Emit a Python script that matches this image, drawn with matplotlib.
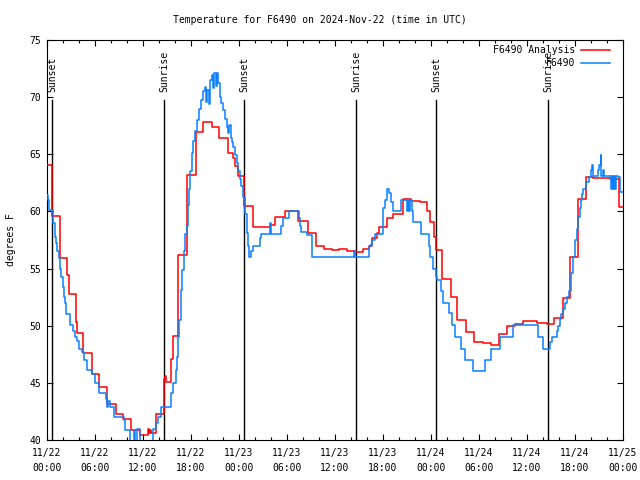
import matplotlib
matplotlib.use("Agg")
import matplotlib.pyplot as plt
from matplotlib.ticker import MultipleLocator

# ---- data (hours since 2024-11-22 00:00 UTC) ----
red_hours = [0, 0.58, 1.58, 2.54, 2.75, 3.58, 3.75, 4.54, 5.58, 6.54, 7.54, 8.58, 9.54,
             10.54, 11.6, 12.6, 12.75, 12.85, 13.0, 13.6, 14.6, 14.75, 14.85, 15.5, 15.7,
             16.4, 17.5, 18.6, 19.5, 20.6, 21.5, 22.6, 23.3, 23.5, 23.9, 24.6, 25.7, 27.9,
             28.5, 29.7, 31.4, 32.6, 33.6, 34.6, 35.6, 36.5, 37.5, 38.6, 39.5, 40.3, 40.6,
             41.2, 41.5, 42.5, 43.3, 44.5, 45.5, 46.6, 47.5, 47.9, 48.4, 48.6, 49.4, 50.5,
             51.3, 52.4, 53.4, 54.5, 55.5, 56.5, 57.5, 58.5, 59.5, 60.4, 61.3, 62.5, 63.4,
             64.5, 65.4, 66.4, 67.4, 68.3, 69.5, 70.4, 71.5, 72.0]
red_temps = [64.1, 59.6, 55.9, 54.4, 52.75, 50.3, 49.4, 47.6, 45.75, 44.6, 43.15, 42.3, 41.8,
             40.9, 40.4, 41.0, 40.6, 40.9, 40.6, 42.3, 45.3, 45.6, 45.1, 47.1, 49.1,
             56.2, 63.2, 66.95, 67.8, 67.36, 66.4, 65.1, 64.7, 64.0, 63.1, 60.5, 58.6, 58.8,
             59.5, 60.0, 59.2, 58.1, 57.0, 56.7, 56.6, 56.7, 56.5, 56.45, 56.7, 57.0, 57.65,
             58.1, 58.6, 59.4, 59.8, 61.1, 60.9, 60.85, 60.0, 59.1, 57.8, 56.6, 54.06, 52.5,
             50.5, 49.45, 48.6, 48.5, 48.3, 49.3, 50.0, 50.15, 50.4, 50.45, 50.2, 50.15, 50.7,
             52.4, 56.0, 61.06, 63.0, 62.95, 62.9, 62.8, 60.4, 60.4]

blue_hours = [0.0, 0.13, 0.29, 0.79, 0.96, 1.08, 1.29, 1.46, 1.63, 1.79, 1.96, 2.13, 2.25,
              2.42, 2.88, 3.29, 3.46, 3.79, 3.96, 4.42, 4.63, 4.96, 5.04, 5.58, 6.0, 6.5,
              7.42, 7.54, 7.67, 7.83, 8.38, 9.63, 9.75, 10.4, 10.9, 11.05, 11.3, 11.6, 13.3,
              13.6, 13.9, 14.3, 15.5, 15.8, 16.1, 16.3, 16.4, 16.5, 16.7, 16.9, 17.1, 17.25,
              17.5, 17.6, 17.75, 17.9, 18.1, 18.3, 18.5, 18.7, 19.0, 19.3, 19.5, 19.75, 19.83,
              19.96, 20.2, 20.4, 20.6, 20.8, 20.9, 21.1, 21.2, 21.4, 21.6, 21.8, 22.0, 22.25,
              22.5, 22.6, 22.8, 22.96, 23.1, 23.3, 23.5, 23.7, 23.9, 24.1, 24.3, 24.5, 24.7,
              24.8, 25.0, 25.15, 25.3, 25.5, 25.7, 26.6, 26.8, 27.85, 27.95, 29.3, 29.5, 30.3,
              31.5, 31.6, 31.8, 32.5, 33.1, 38.4, 38.5, 40.2, 40.4, 40.6, 41.0, 42.0, 42.25,
              42.5, 42.8, 42.96, 43.2, 44.2, 45.0, 45.1, 45.3, 45.4, 45.6, 45.8, 46.8, 47.7,
              47.9, 48.3, 48.6, 48.7, 49.2, 49.5, 50.3, 50.6, 51.0, 51.8, 52.2, 53.2, 54.7,
              55.5, 56.6, 58.2, 61.4, 62.0, 62.9, 63.1, 63.7, 63.9, 64.1, 64.3, 64.5, 64.75,
              65.0, 65.2, 65.5, 65.7, 66.0, 66.2, 66.4, 66.6, 66.75, 66.9, 67.0, 67.4, 67.7,
              68.0, 68.1, 68.2, 68.9, 69.0, 69.2, 69.3, 69.5, 69.6, 70.4, 70.5, 70.6, 70.75,
              70.85, 71.0, 71.1, 71.4, 71.6, 72.0]
blue_temps = [61.4, 61.0, 60.1, 59.0, 57.8, 57.2, 56.5, 55.9, 55.0, 54.3, 53.4, 52.5, 52.0,
              51.0, 50.1, 49.5, 49.0, 48.7, 48.0, 47.7, 47.0, 46.6, 46.1, 45.8, 45.0, 44.1,
              43.6, 42.9, 43.4, 42.9, 42.0, 41.75, 40.9, 39.5, 40.8, 39.5, 41.0, 39.5, 41.0,
              41.5, 42.0, 42.9, 44.1, 45.0, 46.1, 47.3, 49.0, 50.5, 53.1, 54.9, 56.5, 58.0,
              58.7, 60.6, 62.0, 63.5, 65.1, 66.2, 67.0, 68.0, 69.0, 69.75, 70.5, 70.9, 69.6,
              70.6, 69.4, 71.5, 71.9, 70.8, 72.1, 71.0, 72.1, 71.2, 70.0, 69.5, 68.9, 68.1,
              67.4, 66.9, 67.6, 66.4, 66.1, 65.6, 64.9, 64.2, 63.5, 62.8, 62.2, 61.3, 60.4,
              59.8, 58.1, 57.0, 56.0, 56.5, 57.0, 57.65, 58.0, 59.0, 58.0, 58.7, 59.4, 60.0,
              59.4, 58.7, 58.2, 57.9, 56.0, 56.5, 56.0, 56.9, 57.1, 57.5, 58.0, 60.3, 61.0,
              62.0, 61.6, 60.8, 60.0, 61.0, 60.0, 61.0, 60.0, 61.0, 60.0, 59.1, 58.0, 57.0,
              56.0, 55.0, 54.3, 54.0, 53.0, 52.0, 51.1, 50.1, 49.0, 48.0, 47.0, 46.0, 47.0,
              48.0, 49.0, 50.1, 49.0, 48.0, 48.6, 49.0, 49.5, 50.0, 50.6, 51.0, 51.5, 52.0,
              52.5, 53.0, 54.6, 56.0, 57.5, 58.5, 59.5, 60.3, 61.0, 61.5, 62.0, 62.6, 63.0,
              63.6, 64.1, 63.1, 63.6, 64.1, 64.9, 63.1, 63.6, 63.1, 63.1, 62.0, 63.1, 62.0,
              63.1, 62.0, 63.1, 63.0, 61.7, 61.7]

sun_hours = [0.67, 14.67, 24.67, 38.67, 48.67, 62.67]
sun_labels = ["Sunset", "Sunrise", "Sunset", "Sunrise", "Sunset", "Sunrise"]

xtick_hours = [0, 6, 12, 18, 24, 30, 36, 42, 48, 54, 60, 66, 72]
xtick_labels = ["11/22\n00:00", "11/22\n06:00", "11/22\n12:00", "11/22\n18:00",
                "11/23\n00:00", "11/23\n06:00", "11/23\n12:00", "11/23\n18:00",
                "11/24\n00:00", "11/24\n06:00", "11/24\n12:00", "11/24\n18:00",
                "11/25\n00:00"]
yticks = [40, 45, 50, 55, 60, 65, 70, 75]

title = "Temperature for F6490 on 2024-Nov-22 (time in UTC)"
red_label = "F6490 Analysis"
blue_label = "F6490"

# ---- plot ----
FONT = "DejaVu Sans Mono"
FS = 7
plt.rcParams['font.family'] = [FONT]

fig = plt.figure(figsize=(6.4, 4.8), dpi=100)
ax = fig.add_axes([47/640, 40/480, 576/640, 400/480])

red_color = "#ff0000"
blue_color = "#0a80ff"

ax.plot(red_hours, red_temps, drawstyle="steps-post", color=red_color, lw=1.1, zorder=3)
ax.plot(blue_hours, blue_temps, drawstyle="steps-post", color=blue_color, lw=1.1, zorder=4)

for h, lab in zip(sun_hours, sun_labels):
    ax.plot([h, h], [0, 0.85], color="black", lw=1.0,
            transform=ax.get_xaxis_transform(), zorder=2)
    ax.text(h, 0.87, lab, rotation=90, ha="center", va="bottom",
            transform=ax.get_xaxis_transform(), fontsize=FS, family=FONT)

ax.set_xlim(0, 72)
ax.set_ylim(40, 75)
ax.set_xticks(xtick_hours)
ax.set_xticklabels(xtick_labels, fontsize=FS, linespacing=1.55)
ax.xaxis.set_minor_locator(MultipleLocator(2))
ax.set_yticks(yticks)
ax.set_yticklabels([str(v) for v in yticks], fontsize=FS)
ax.tick_params(which="both", direction="in", top=True, right=True, width=0.8)
ax.tick_params(which="major", length=4.5, pad=4)
ax.tick_params(axis="x", which="major", pad=6)
ax.tick_params(which="minor", length=2.5)
for s in ax.spines.values():
    s.set_linewidth(0.8)

ax.set_ylabel("degrees F", fontsize=FS, labelpad=10)
fig.text(0.5, 1 - 20/480, title, ha="center", va="center", fontsize=FS, family=FONT)

# legend (gnuplot style: right-justified text, sample to the right)
leg_rows = [(red_label, red_color, 50), (blue_label, blue_color, 63)]
for lab, col, ypx in leg_rows:
    ya = (440 - ypx) / 400
    ax.text((575 - 47) / 576, ya, lab, ha="right", va="center", fontsize=FS,
            family=FONT, transform=ax.transAxes)
    ax.plot([(581 - 47) / 576, (610 - 47) / 576], [ya, ya], color=col, lw=1.1,
            transform=ax.transAxes, clip_on=False)

fig.savefig("out.png", dpi=100)
